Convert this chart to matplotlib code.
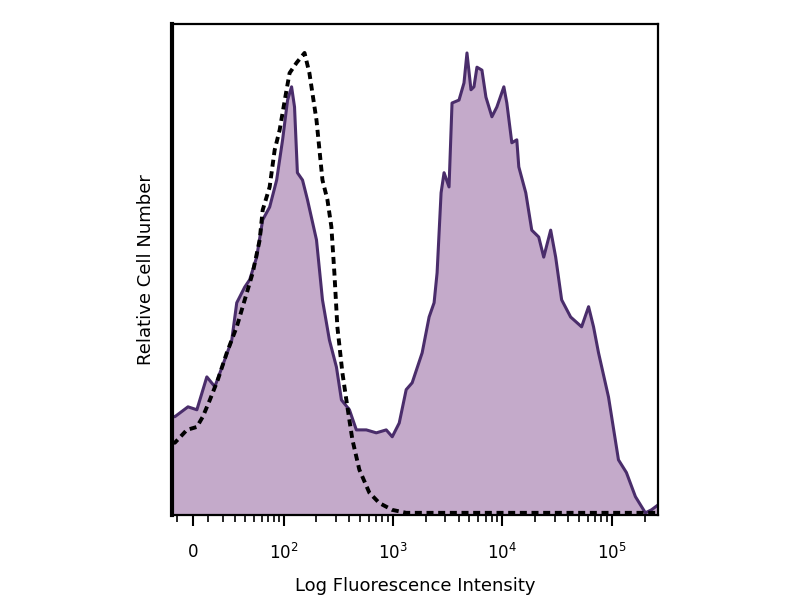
import matplotlib
matplotlib.use('Agg')
import matplotlib.pyplot as plt
import numpy as np

# stained sample (filled) - fluorescence intensity vs relative count
stain_x = [-13.6, -11.6, -3.1, 2.5, 8.9, 14.3, 21.6, 27.3, 31.7, 39.5, 44.9, 53.3, 61.5, 72.2,
           84.5, 96.4, 107.5, 117.3, 125, 133, 148.5, 165, 200, 227, 263, 305, 339, 401, 464,
           572, 706, 870, 987, 1143, 1323, 1500, 1850, 2141, 2377, 2532, 2753, 2931, 3254,
           3465, 4013, 4455, 4743, 5159, 5493, 5849, 6495, 7062, 8007, 8889, 10292, 10956,
           12167, 13506, 14084, 16313, 18492, 21405, 23774, 27518, 30558, 34647, 41841,
           52686, 61000, 67692, 75178, 92700, 114255, 135060, 163125, 201150, 228000, 262144]
stain_y = [20.0, 20.0, 22.0, 21.4, 28.1, 26.1, 31.6, 35.6, 43.2, 46.4, 47.9, 52.5, 60.1, 62.7,
           68.2, 76.4, 84.5, 87.2, 83.1, 69.7, 68.2, 64.2, 56.0, 43.8, 35.6, 30.1, 23.4, 21.4,
           17.3, 17.3, 16.7, 17.3, 15.9, 18.7, 25.5, 26.9, 33.0, 40.3, 43.2, 49.3, 65.6, 69.7,
           66.8, 83.9, 84.5, 88.0, 94.1, 86.6, 87.2, 91.2, 90.6, 85.1, 81.1, 83.1, 87.2, 83.9,
           75.8, 76.4, 70.9, 65.6, 58.0, 56.6, 52.5, 58.0, 52.5, 43.8, 40.3, 38.3, 42.4, 38.3,
           33.0, 24.0, 11.2, 8.6, 3.7, 0.4, 1.0, 2.0]

# isotype control (dashed)
ctrl_x = [-13.6, -11.6, -3.8, 2.5, 6.3, 10.9, 16.4, 23.2, 31.7, 39.5, 48.4, 57.3, 61.5, 72.2,
          80.8, 90.3, 105.2, 112.3, 130.6, 155, 172, 200, 227, 252, 274, 292, 311, 346, 384,
          427, 494, 610, 752, 987, 1323, 3000, 10000, 30000, 100000, 262144]
ctrl_y = [14.7, 14.7, 17.3, 17.9, 20.0, 23.4, 27.5, 33.0, 38.3, 43.8, 49.3, 56.0, 62.1, 66.8,
          74.3, 78.4, 86.6, 90.0, 92.1, 94.1, 90.0, 80.4, 68.2, 64.2, 58.7, 49.3, 38.3, 28.9,
          22.0, 15.3, 9.2, 4.5, 2.4, 1.0, 0.4, 0.4, 0.4, 0.4, 0.4, 0.4]

major_ticks = [0, 100, 1000, 10000, 100000]
major_labels = ['0', '$10^2$', '$10^3$', '$10^4$', '$10^5$']
minor_ticks = [-10, 10, 20, 30, 40, 50, 60, 70, 80, 90] + \
    [m * 10 ** k for k in range(2, 5) for m in range(2, 10)] + [200000]

# biexponential-like display scale
W = 30.0
def fwd(v):
    return np.arcsinh(np.asarray(v, dtype=float) / W) / np.log(10)

def inv(t):
    return W * np.sinh(np.asarray(t, dtype=float) * np.log(10))

fill_col = '#c4aaca'
line_col = '#4a2d6b'

fig = plt.figure(figsize=(8, 6), dpi=100)
ax = fig.add_axes([0.215, 0.142, 0.6075, 0.818])
ax.set_xscale('function', functions=(fwd, inv))

ax.fill_between(stain_x, 0, stain_y, color=fill_col, lw=0)
ax.plot(stain_x, stain_y, color=line_col, lw=2.2)
ax.plot(ctrl_x, ctrl_y, color='black', lw=2.8, linestyle=(0, (1.8, 1.2)))

ax.set_xlim(-13.6, 262144)
ax.set_ylim(0, 100)

ax.set_xticks(major_ticks)
ax.set_xticklabels(major_labels)
ax.set_xticks(minor_ticks, minor=True)
ax.set_yticks([])
ax.tick_params(axis='x', which='major', length=8, width=1.5, direction='out', labelsize=12, pad=12)
ax.tick_params(axis='x', which='minor', length=5, width=1.2, direction='out')

for s in ['top', 'right', 'bottom']:
    ax.spines[s].set_linewidth(1.6)
ax.spines['left'].set_linewidth(3.0)

ax.set_xlabel('Log Fluorescence Intensity', fontsize=13, labelpad=10)
ax.set_ylabel('Relative Cell Number', fontsize=13, labelpad=12)

fig.savefig('out.png', dpi=100)
